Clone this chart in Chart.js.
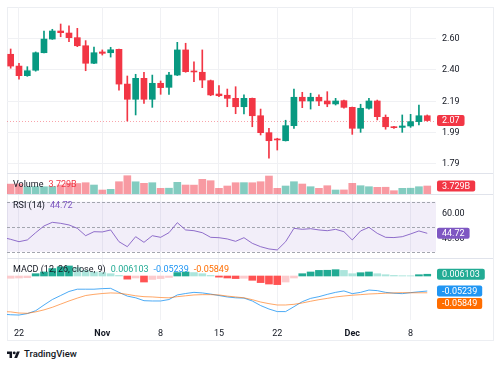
<!DOCTYPE html>
<html>
<head>
<meta charset="utf-8">
<title>Chart</title>
<script src="https://cdn.jsdelivr.net/npm/chart.js@4.4.1/dist/chart.umd.min.js"></script>
<style>
  html, body { margin: 0; padding: 0; background: #fff; }
  body { position: relative; width: 500px; height: 365px; overflow: hidden; font-family: Roboto, sans-serif; color: #131722; }
  #frame { position: absolute; left: 7px; top: 7px; width: 485px; height: 332px; border: 1px solid #eceef2; }
  .pane { position: absolute; left: 7px; }
  .sep { position: absolute; left: 7px; width: 486px; height: 1px; background: #e0e3eb; }
  .legend { position: absolute; left: 13px; font-size: 9px; line-height: 11px; white-space: nowrap; }
  .legend span + span { margin-left: 5px; }
  #brand { position: absolute; left: 7px; top: 348px; font-size: 9.5px; font-weight: 500; line-height: 11px; display: flex; align-items: center; gap: 4px; }
</style>
</head>
<body>
<div id="frame"></div>
<canvas id="price" class="pane" width="486" height="166" style="top:7px"></canvas>
<canvas id="volume" class="pane" width="486" height="21" style="top:173px"></canvas>
<canvas id="rsi" class="pane" width="486" height="64" style="top:194px"></canvas>
<canvas id="macd" class="pane" width="486" height="82" style="top:258px"></canvas>
<div class="sep" style="top:173px"></div>
<div class="sep" style="top:194px"></div>
<div class="sep" style="top:258px"></div>
<div class="legend" id="volLegend" style="top:179px"></div>
<div class="legend" id="rsiLegend" style="top:200px"></div>
<div class="legend" id="macdLegend" style="top:264px"></div>
<div id="brand">
  <svg width="13" height="8" viewBox="0 0 36 22"><path d="M14 22H7V11H0V4h14v18zM28 22h-8l7.5-18h8L28 22z" fill="#131722"/><circle cx="20" cy="8" r="4" fill="#131722"/></svg>
  <span>TradingView</span>
</div>
<script>
// daily candles, Oct 21 .. Dec 10 (index 0 .. 50)
const opens  = [2.497, 2.421, 2.359, 2.394, 2.507, 2.595, 2.647, 2.634, 2.604, 2.552,
                2.439, 2.512, 2.507, 2.529, 2.305, 2.207, 2.342, 2.207, 2.310, 2.284,
                2.363, 2.525, 2.389, 2.381, 2.327, 2.241, 2.233, 2.213, 2.159, 2.213,
                2.101, 1.992, 1.951, 1.940, 2.037, 2.220, 2.196, 2.220, 2.196, 2.177,
                2.198, 2.155, 2.020, 2.149, 2.196, 2.091, 2.030, 2.026, 2.035, 2.063, 2.101];
const highs  = [2.531, 2.439, 2.417, 2.512, 2.647, 2.658, 2.692, 2.681, 2.664, 2.585,
                2.544, 2.525, 2.542, 2.531, 2.357, 2.368, 2.381, 2.363, 2.325, 2.381,
                2.574, 2.568, 2.449, 2.525, 2.331, 2.295, 2.273, 2.288, 2.235, 2.215,
                2.144, 2.020, 1.956, 2.072, 2.273, 2.252, 2.246, 2.235, 2.256, 2.213,
                2.202, 2.157, 2.175, 2.213, 2.202, 2.106, 2.033, 2.106, 2.110, 2.170, 2.106];
const lows   = [2.407, 2.336, 2.355, 2.388, 2.505, 2.593, 2.610, 2.578, 2.546, 2.391,
                2.436, 2.492, 2.479, 2.265, 2.067, 2.106, 2.181, 2.155, 2.239, 2.239,
                2.360, 2.381, 2.320, 2.282, 2.230, 2.224, 2.159, 2.114, 2.112, 2.030,
                1.977, 1.827, 1.880, 1.938, 2.020, 2.153, 2.144, 2.166, 2.159, 2.170,
                2.149, 1.981, 1.994, 2.144, 2.074, 2.014, 2.020, 1.994, 2.026, 2.041, 2.066];
const closes = [2.421, 2.359, 2.391, 2.507, 2.595, 2.647, 2.636, 2.604, 2.552, 2.439,
                2.507, 2.503, 2.526, 2.305, 2.207, 2.342, 2.207, 2.310, 2.282, 2.363,
                2.525, 2.385, 2.383, 2.331, 2.235, 2.230, 2.213, 2.159, 2.213, 2.101,
                1.992, 1.940, 1.945, 2.037, 2.220, 2.196, 2.220, 2.196, 2.177, 2.196,
                2.155, 2.020, 2.149, 2.196, 2.095, 2.030, 2.024, 2.035, 2.063, 2.101, 2.070];
// volume in billions
const volumes = [4.62, 4.70, 3.35, 3.45, 3.38, 3.52, 4.19, 4.99, 4.90, 5.27,
                 4.19, 1.86, 2.19, 5.73, 8.53, 5.70, 4.99, 5.27, 2.66, 2.70,
                 5.45, 4.19, 4.15, 6.85, 6.20, 2.66, 3.73, 5.27, 5.30, 5.25,
                 5.73, 8.39, 2.66, 3.73, 5.73, 4.66, 3.40, 2.66, 3.87, 1.86,
                 1.90, 4.99, 3.87, 3.40, 3.12, 3.15, 1.54, 2.66, 2.70, 3.40, 3.729];
// RSI / MACD lines start one day earlier (Oct 20) so they run into the left edge
const rsi = [41.5, 39.9, 38.0, 39.4, 45.2, 50.6, 53.5, 52.7, 51.4, 48.7, 42.8,
             46.0, 45.8, 47.4, 38.0, 34.0, 42.0, 37.5, 42.8, 41.5, 45.2,
             53.2, 47.4, 46.8, 45.2, 41.5, 41.2, 40.2, 38.3, 41.2, 36.7,
             34.0, 32.2, 31.4, 38.0, 48.7, 47.9, 48.4, 47.4, 46.8, 47.9,
             46.0, 39.4, 46.6, 49.5, 44.7, 41.5, 41.3, 42.0, 44.2, 46.6, 44.72];
const macdLine = [-0.133, -0.135, -0.136, -0.131, -0.121, -0.101, -0.082, -0.068, -0.054, -0.046, -0.046,
                  -0.046, -0.044, -0.043, -0.057, -0.070, -0.076, -0.086, -0.087, -0.087, -0.082,
                  -0.066, -0.061, -0.057, -0.059, -0.063, -0.068, -0.073, -0.076, -0.077, -0.087,
                  -0.103, -0.115, -0.124, -0.124, -0.107, -0.0895, -0.078, -0.072, -0.064, -0.057,
                  -0.052, -0.0615, -0.057, -0.049, -0.051, -0.057, -0.060, -0.0615, -0.058, -0.055, -0.05239];
const signalLine = [-0.124, -0.125, -0.129, -0.130, -0.125, -0.118, -0.109, -0.098, -0.087, -0.077, -0.068,
                    -0.064, -0.061, -0.059, -0.060, -0.064, -0.069, -0.072, -0.073, -0.075, -0.076,
                    -0.072, -0.069, -0.066, -0.065, -0.065, -0.066, -0.070, -0.073, -0.076, -0.0825,
                    -0.0906, -0.0964, -0.101, -0.101, -0.0987, -0.094, -0.088, -0.0825, -0.078, -0.073,
                    -0.0697, -0.067, -0.065, -0.0627, -0.0615, -0.060, -0.059, -0.058, -0.0585, -0.0585, -0.05849];
// histogram, Oct 21 .. Dec 10
const macdHist = [-0.008, -0.007, -0.006, 0.008, 0.014, 0.026, 0.032, 0.035, 0.030, 0.020,
                  0.014, 0.012, 0.008, 0.002, -0.011, -0.007, -0.021, -0.012, -0.009, -0.005,
                  0.012, 0.014, 0.012, 0.008, 0.002, -0.004, -0.007, -0.009, -0.008, -0.015,
                  -0.023, -0.028, -0.030, -0.021, -0.007, 0.008, 0.014, 0.0195, 0.020, 0.022,
                  0.0195, 0.008, 0.0115, 0.014, 0.008, 0.0045, 0.002, 0.001, 0.0008, 0.0045, 0.006103];

const timeTickIdx = [1, 11, 18, 25, 32, 41, 48];
const timeTickLabels = ['22', 'Nov', '8', '15', '22', 'Dec', '8'];
const priceTicks = [1.79, 1.99, 2.19, 2.40, 2.60];
const rsiTicks = [40, 60];
const rsiLevels = [70, 50, 30];

const UP = '#089981', DOWN = '#f23645';
const GRID = '#f0f1f4';
const FONT = { family: 'Roboto, sans-serif', size: 9 };
const AXIS_W = 57;
const X_MIN = -0.44, X_MAX = 51.05;

function timeAxis(withLabels) {
  return {
    type: 'linear', min: X_MIN, max: X_MAX, offset: false,
    afterBuildTicks: s => { s.ticks = timeTickIdx.map(v => ({ value: v })); },
    afterFit: s => { s.height = withLabels ? 20 : 0; s.paddingLeft = 0; s.paddingRight = 0; },
    grid: { color: GRID, drawTicks: false, offset: false },
    border: { display: false },
    ticks: {
      display: withLabels, padding: 8, color: '#131722', maxRotation: 0, autoSkip: false,
      font: c => ({ ...FONT, weight: isNaN(timeTickLabels[c.index]) ? 'bold' : 'normal' }),
      callback: (v, i) => timeTickLabels[i]
    }
  };
}

function valueAxis(min, max, ticks, digits, showGrid) {
  return {
    position: 'right', min, max,
    afterBuildTicks: s => { s.ticks = ticks.map(v => ({ value: v })); },
    afterFit: s => { s.width = AXIS_W; s.paddingTop = 0; s.paddingBottom = 0; },
    grid: { display: showGrid, color: GRID, drawTicks: false },
    border: { display: false },
    ticks: { padding: 6, color: '#131722', font: FONT, callback: v => v.toFixed(digits) }
  };
}

// band, level lines, dotted last-price line and the value tags on the axis
const paneDecor = {
  id: 'paneDecor',
  beforeDatasetsDraw(chart, args, opts) {
    const { ctx, chartArea: a } = chart;
    const y = chart.scales.y;
    ctx.save();
    if (opts.band) {
      const t = y.getPixelForValue(opts.band[0]), b = y.getPixelForValue(opts.band[1]);
      ctx.fillStyle = 'rgba(126, 87, 194, 0.1)';
      ctx.fillRect(a.left, t, a.right - a.left, b - t);
    }
    (opts.levels || []).forEach(v => {
      const py = Math.round(y.getPixelForValue(v)) + 0.5;
      ctx.strokeStyle = '#a3a6af';
      ctx.lineWidth = 1;
      ctx.setLineDash([3, 2]);
      ctx.beginPath(); ctx.moveTo(a.left, py); ctx.lineTo(a.right, py); ctx.stroke();
    });
    if (opts.lastLine != null) {
      const py = Math.round(y.getPixelForValue(opts.lastLine)) + 0.5;
      ctx.strokeStyle = 'rgba(242, 54, 69, 0.45)';
      ctx.lineWidth = 1;
      ctx.setLineDash([1, 2]);
      ctx.beginPath(); ctx.moveTo(a.left, py); ctx.lineTo(a.right, py); ctx.stroke();
    }
    ctx.restore();
  },
  afterDraw(chart, args, opts) {
    const { ctx, chartArea: a } = chart;
    const y = chart.scales.y;
    let prev = -Infinity;
    ctx.save();
    ctx.font = '9px Roboto, sans-serif';
    ctx.textBaseline = 'middle';
    (opts.tags || []).forEach(t => {
      let py = y.getPixelForValue(t.value);
      if (py < prev + 12.5) py = prev + 12.5;
      prev = py;
      const w = ctx.measureText(t.text).width + 10;
      ctx.fillStyle = t.color;
      ctx.beginPath();
      ctx.roundRect(a.right + 1, py - 5.5, w, 11, 2);
      ctx.fill();
      ctx.fillStyle = '#fff';
      ctx.fillText(t.text, a.right + 6, py + 0.5);
    });
    ctx.restore();
  }
};

const baseOptions = extra => Object.assign({
  responsive: false, animation: false, events: [],
  layout: { padding: 0, autoPadding: false },
  plugins: { legend: { display: false }, tooltip: { enabled: false } }
}, extra);

const candleColors = opens.map((o, i) => closes[i] >= o ? UP : DOWN);
const volColors = opens.map((o, i) => closes[i] >= o ? 'rgba(8, 153, 129, 0.5)' : 'rgba(242, 54, 69, 0.5)');
const histColors = macdHist.map((h, i) => {
  const rising = i === 0 || h >= macdHist[i - 1];
  if (h >= 0) return rising ? '#22ab94' : '#ace5dc';
  return rising ? '#fccbcd' : '#ff5252';
});

const last = closes.length - 1;
const lastVol = volumes[last].toFixed(3) + 'B';
const lastRsi = rsi[rsi.length - 1].toFixed(2);
const lastHist = macdHist[last].toFixed(6);
const lastMacd = macdLine[macdLine.length - 1].toFixed(5);
const lastSignal = signalLine[signalLine.length - 1].toFixed(5);

// price pane
new Chart(document.getElementById('price'), {
  type: 'bar',
  data: {
    datasets: [
      { data: lows.map((l, i) => ({ x: i, y: [l, highs[i]] })), backgroundColor: candleColors, barThickness: 1, order: 2 },
      { data: opens.map((o, i) => ({ x: i, y: [o, closes[i]] })), backgroundColor: candleColors, barThickness: 6, minBarLength: 1, order: 1 }
    ]
  },
  options: baseOptions({
    datasets: { bar: { grouped: false, borderWidth: 0 } },
    plugins: {
      legend: { display: false }, tooltip: { enabled: false },
      paneDecor: { lastLine: closes[last], tags: [{ value: closes[last], text: closes[last].toFixed(2), color: DOWN }] }
    },
    scales: { x: timeAxis(false), y: valueAxis(1.732, 2.8016, priceTicks, 2, true) }
  }),
  plugins: [paneDecor]
});

// volume pane
new Chart(document.getElementById('volume'), {
  type: 'bar',
  data: { datasets: [{ data: volumes.map((v, i) => ({ x: i, y: v })), backgroundColor: volColors, barThickness: 7 }] },
  options: baseOptions({
    plugins: {
      legend: { display: false }, tooltip: { enabled: false },
      paneDecor: { tags: [{ value: volumes[last], text: lastVol, color: DOWN }] }
    },
    scales: { x: timeAxis(false), y: valueAxis(0, 9.8, [], 0, false) }
  }),
  plugins: [paneDecor]
});

// RSI pane
new Chart(document.getElementById('rsi'), {
  type: 'line',
  data: { datasets: [{ data: rsi.map((v, i) => ({ x: i - 1, y: v })), borderColor: 'rgba(126, 87, 194, 0.85)', borderWidth: 1, pointRadius: 0, tension: 0 }] },
  options: baseOptions({
    plugins: {
      legend: { display: false }, tooltip: { enabled: false },
      paneDecor: { band: [70, 30], levels: rsiLevels, tags: [{ value: rsi[rsi.length - 1], text: lastRsi, color: '#7e57c2' }] }
    },
    scales: { x: timeAxis(false), y: valueAxis(24.96, 76.16, rsiTicks, 2, false) }
  }),
  plugins: [paneDecor]
});

// MACD pane with the time axis
new Chart(document.getElementById('macd'), {
  type: 'bar',
  data: {
    datasets: [
      { type: 'bar', data: macdHist.map((v, i) => ({ x: i, y: v })), backgroundColor: histColors, barThickness: 7, order: 3 },
      { type: 'line', data: macdLine.map((v, i) => ({ x: i - 1, y: v })), borderColor: 'rgba(33, 150, 243, 0.8)', borderWidth: 1, pointRadius: 0, order: 2 },
      { type: 'line', data: signalLine.map((v, i) => ({ x: i - 1, y: v })), borderColor: 'rgba(255, 109, 0, 0.6)', borderWidth: 1, pointRadius: 0, order: 1 }
    ]
  },
  options: baseOptions({
    plugins: {
      legend: { display: false }, tooltip: { enabled: false },
      paneDecor: { tags: [
        { value: macdHist[last], text: lastHist, color: '#22ab94' },
        { value: macdLine[macdLine.length - 1], text: lastMacd, color: '#2196f3' },
        { value: signalLine[signalLine.length - 1], text: lastSignal, color: '#ff6d00' }
      ] }
    },
    scales: { x: timeAxis(true), y: valueAxis(-0.1533, 0.0627, [], 2, false) }
  }),
  plugins: [paneDecor]
});

// legends
document.getElementById('volLegend').innerHTML =
  '<span>Volume</span><span style="color:#f23645">' + lastVol + '</span>';
document.getElementById('rsiLegend').innerHTML =
  '<span>RSI (14)</span><span style="color:#7e57c2">' + lastRsi + '</span>';
document.getElementById('macdLegend').innerHTML =
  '<span>MACD (12, 26, close, 9)</span><span style="color:#22ab94">' + lastHist + '</span>' +
  '<span style="color:#2196f3">' + lastMacd + '</span><span style="color:#ff6d00">' + lastSignal + '</span>';
</script>
</body>
</html>
